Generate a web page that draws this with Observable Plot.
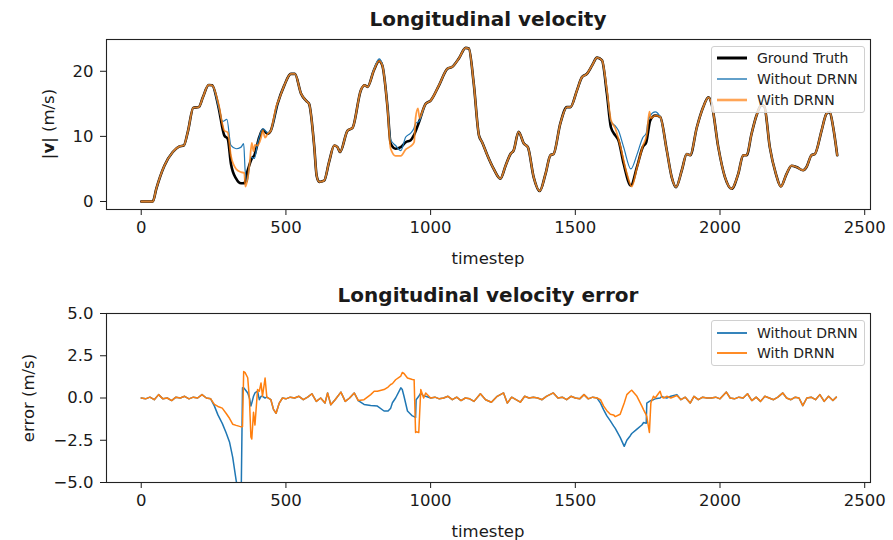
<!DOCTYPE html>
<html>
<head>
<meta charset="utf-8">
<script src="https://cdn.jsdelivr.net/npm/d3@7"></script>
<script src="https://cdn.jsdelivr.net/npm/@observablehq/plot@0.6"></script>
<style>
  body { margin: 0; background: #fff; }
  #wrap { position: relative; width: 893px; height: 540px; font-family: "DejaVu Sans", sans-serif; color: #1a1a1a; }
  #wrap svg.plot { position: absolute; left: 0; }
  .lbl { position: absolute; white-space: nowrap; font-size: 16.5px; transform: translate(-50%, -50%); }
  .ttl { position: absolute; white-space: nowrap; font-size: 20px; font-weight: bold; transform: translate(-50%, -50%); }
  .rot { transform: translate(-50%, -50%) rotate(-90deg); }
  .legend { position: absolute; border: 1px solid #d0d0d0; border-radius: 3px; background: rgba(255,255,255,0.8); box-sizing: border-box; }
  .legend .row { position: absolute; left: 0; height: 20px; width: 100%; }
  .legend .row svg { position: absolute; left: 5px; top: 0; }
  .legend .row span { position: absolute; left: 45px; top: 50%; transform: translateY(-50%); font-size: 14px; color: #222; }
</style>
</head>
<body>
<div id="wrap"></div>
<script>
// ---------- data: top panel (velocity, m/s) ----------
const truthT = [0,40,52,80,109,132,147,161,180,199,213,233,245,267,287,299,310,328,345,356,368,382,391,408,420,437,448,471,494,517,531,552,571,580,598,606,615,632,649,667,678,687,713,730,759,772,782,804,822,833,851,862,879,897,914,931,942,960,983,1000,1029,1058,1075,1098,1121,1132,1149,1167,1178,1196,1218,1241,1259,1276,1287,1304,1322,1336,1356,1377,1397,1414,1425,1448,1471,1483,1506,1523,1540,1558,1575,1592,1609,1623,1638,1649,1667,1692,1713,1733,1745,1759,1776,1793,1816,1833,1848,1868,1885,1897,1920,1942,1960,1971,1994,2017,2040,2063,2080,2092,2109,2126,2143,2153,2172,2193,2210,2230,2247,2264,2287,2299,2316,2328,2351,2368,2379,2391,2405];
const truthV = [0,0,1.95,5.5,7.6,8.46,8.6,10.7,14.4,14.5,16.0,17.9,17.85,14.5,10.15,9.6,5.8,3.5,2.8,2.8,4.8,6.6,7.1,9.9,11.0,10.4,10.9,15.0,17.8,19.6,19.6,16.6,15.4,15.0,8.35,4.0,3.0,3.2,6.05,8.6,8.35,7.6,10.9,11.3,17.1,17.85,17.6,20.15,21.6,20.9,14.5,8.9,8.1,8.35,9.1,9.4,10.15,12.2,15.0,15.5,17.85,20.4,20.7,22.0,23.6,23.5,18.1,10.15,9.1,7.1,5.0,3.5,5.5,7.3,7.85,10.7,8.9,8.35,3.75,1.6,4.25,7.1,7.3,11.95,14.5,14.5,17.1,19.1,19.6,20.9,22.1,21.7,16.6,11.4,10.15,9.4,5.8,2.45,5.3,8.35,9.1,12.45,13.2,13.0,7.85,3.75,2.2,4.8,7.3,7.1,11.4,14.5,16.0,15.0,8.35,3.75,1.95,4.25,7.1,7.1,10.4,13.2,14.8,14.6,8.35,4.25,2.3,4.25,5.5,5.3,4.8,5.3,7.1,7.3,10.9,13.5,13.75,11.4,7.1];

const withoutT = [0,40,52,80,109,132,147,161,180,199,213,233,245,267,281,296,310,328,345,354,359,366,379,391,402,420,437,448,471,494,517,531,552,571,580,598,606,615,632,649,667,678,687,713,730,759,772,782,804,822,833,851,862,879,897,914,931,942,948,960,983,1000,1029,1058,1075,1098,1121,1132,1149,1167,1178,1196,1218,1241,1259,1276,1287,1304,1322,1336,1356,1377,1397,1414,1425,1448,1471,1483,1506,1523,1540,1558,1575,1592,1609,1623,1638,1649,1667,1692,1713,1733,1745,1750,1759,1776,1793,1816,1833,1848,1868,1885,1897,1920,1942,1960,1971,1994,2017,2040,2063,2080,2092,2109,2126,2143,2153,2172,2193,2210,2230,2247,2264,2287,2299,2316,2328,2351,2368,2379,2391,2405];
const withoutV = [0,0,1.95,5.5,7.6,8.46,8.6,10.7,14.4,14.5,16.0,17.9,17.85,14.5,12.3,12.6,8.6,8.1,8.35,8.9,4.8,3.0,6.8,6.6,8.9,11.2,10.6,10.9,15.0,17.8,19.6,19.6,16.6,15.4,15.0,8.35,4.0,3.0,3.2,6.05,8.6,8.35,7.6,10.9,11.3,17.1,17.85,17.6,20.3,21.9,21.1,14.8,9.5,8.6,7.8,9.9,10.5,11.2,12.0,12.3,15.0,15.5,17.85,20.4,20.7,22.0,23.6,23.5,18.1,10.15,9.1,7.1,5.0,3.5,5.5,7.3,7.85,10.7,8.9,8.35,3.75,1.6,4.25,7.1,7.3,11.95,14.5,14.5,17.1,19.1,19.6,20.9,22.1,21.7,16.9,12.3,11.6,10.9,8.35,5.0,7.2,9.8,10.5,12.0,13.2,13.75,13.0,7.85,3.75,2.2,4.8,7.3,7.1,11.4,14.5,16.0,15.0,8.35,3.75,1.95,4.25,7.1,7.1,10.4,13.2,14.8,14.6,8.35,4.25,2.3,4.25,5.5,5.3,4.8,5.3,7.1,7.3,10.9,13.5,13.75,11.4,7.1];

const withT = [0,40,52,80,109,132,147,161,180,199,213,233,245,267,287,299,310,328,345,356,360,368,375,382,388,393,402,414,420,428,437,448,457,466,477,494,517,531,552,571,580,598,606,615,632,649,667,678,687,713,730,759,772,782,804,822,833,851,862,879,897,914,931,943,948,956,962,970,983,1000,1029,1058,1075,1098,1121,1132,1149,1167,1178,1196,1218,1241,1259,1276,1287,1304,1322,1336,1356,1377,1397,1414,1425,1448,1471,1483,1506,1523,1540,1558,1575,1592,1609,1623,1638,1655,1678,1695,1713,1733,1747,1756,1761,1776,1793,1816,1833,1848,1868,1885,1897,1920,1942,1960,1971,1994,2017,2040,2063,2080,2092,2109,2126,2143,2153,2172,2193,2210,2230,2247,2264,2287,2299,2316,2328,2351,2368,2379,2391,2405];
const withV = [0,0,1.95,5.5,7.6,8.46,8.6,10.7,14.4,14.5,16.0,17.9,17.85,15.0,10.9,10.6,7.0,5.0,4.5,4.4,2.3,3.6,6.0,9.0,7.7,8.7,8.6,9.8,10.9,9.8,10.4,10.9,12.6,14.5,15.8,17.8,19.6,19.6,16.6,15.4,15.0,8.35,4.0,3.0,3.2,6.05,8.6,8.35,7.6,10.9,11.3,17.1,17.85,17.6,20.15,21.6,20.9,14.3,8.1,7.0,7.0,8.0,8.5,9.1,12.8,14.3,12.8,13.7,15.0,15.5,17.85,20.4,20.7,22.0,23.6,23.5,18.1,10.15,9.1,7.1,5.0,3.5,5.5,7.3,7.85,10.7,8.9,8.35,3.75,1.6,4.25,7.1,7.3,11.95,14.5,14.5,17.1,19.1,19.6,20.9,22.1,21.7,17.2,12.5,11.25,8.6,4.3,2.3,5.2,8.5,10.3,13.8,12.8,13.2,13.0,7.85,3.75,2.2,4.8,7.3,7.1,11.4,14.5,16.0,15.0,8.35,3.75,1.95,4.25,7.1,7.1,10.4,13.2,14.8,14.6,8.35,4.25,2.3,4.25,5.5,5.3,4.8,5.3,7.1,7.3,10.9,13.5,13.75,11.4,7.1];

// ---------- data: bottom panel (velocity error, m/s) ----------
const errT = [0,15,30,45,60,75,90,105,120,135,150,165,180,195,210,225,240,253,265,280,293,305,316,328,340,345,350,354,359,368,374,379,382,388,393,402,408,414,419,428,434,448,457,466,477,488,500,515,530,545,560,575,590,605,620,635,644,655,670,690,705,720,736,750,770,793,805,816,839,853,862,868,879,897,902,908,920,937,943,948,950,959,966,976,983,1000,1015,1030,1045,1060,1075,1090,1105,1120,1135,1150,1172,1190,1210,1230,1252,1265,1280,1295,1310,1325,1340,1355,1370,1385,1400,1424,1440,1455,1470,1485,1500,1515,1530,1545,1560,1575,1587,1598,1609,1621,1632,1638,1655,1669,1678,1690,1695,1713,1730,1736,1745,1747,1756,1761,1770,1776,1793,1799,1805,1816,1830,1851,1865,1880,1897,1910,1925,1940,1955,1970,1985,2000,2022,2035,2050,2065,2080,2095,2110,2125,2140,2155,2170,2185,2200,2217,2230,2245,2260,2273,2286,2300,2315,2330,2345,2360,2375,2390,2402];
const errWith = [0.0,-0.05,0.05,-0.1,0.2,-0.05,0.0,-0.15,0.05,0.0,0.1,-0.05,0.05,0.0,0.2,0.0,-0.05,-0.38,-0.5,-0.6,-0.9,-1.2,-1.55,-1.62,-1.68,-1.7,-1.7,1.57,1.5,1.2,-0.1,-2.3,-2.43,-0.85,-1.6,0.5,0.4,0.89,0.1,1.18,0.05,-0.1,-0.67,-0.9,-0.3,0.0,-0.05,0.05,0.0,0.1,-0.1,0.05,0.25,-0.2,0.0,-0.3,0.3,-0.4,-0.1,0.35,-0.2,0.0,0.3,-0.15,-0.1,0.2,0.4,0.4,0.5,0.65,0.8,0.85,1.08,1.3,1.51,1.45,1.18,1.1,1.08,-2.04,-2.0,-2.04,0.5,0.0,0.3,0.0,0.05,-0.05,0.0,0.1,-0.1,0.05,-0.15,0.0,-0.05,-0.2,0.25,-0.1,-0.25,0.1,0.3,-0.3,0.05,-0.1,-0.25,0.1,0.0,0.05,0.0,-0.1,0.1,0.3,0.0,0.05,-0.1,0.1,0.0,-0.05,0.2,-0.05,0.05,0.0,-0.1,-0.48,-0.75,-0.96,-1.0,-1.1,-0.96,-0.3,0.2,0.4,0.46,0.1,-0.48,-0.7,-1.0,-1.1,-2.04,-0.3,0.1,0.0,0.4,0.05,0.0,0.1,0.0,0.15,-0.1,0.05,-0.3,0.1,-0.1,0.05,0.0,0.0,0.05,-0.05,0.35,0.0,-0.05,0.05,0.0,0.25,-0.15,0.05,-0.2,0.1,0.0,-0.1,0.05,0.3,0.0,-0.1,0.05,0.0,-0.45,0.0,0.05,-0.1,0.2,-0.2,0.1,-0.15,0.05];
const errWithout = [0.0,-0.05,0.05,-0.1,0.2,-0.05,0.0,-0.15,0.05,0.0,0.1,-0.05,0.05,0.0,0.2,0.0,-0.05,-0.48,-1.0,-1.5,-2.04,-2.6,-3.5,-4.87,-6.0,-6.3,0.6,0.6,0.5,0.3,0.0,-0.48,-0.3,0.1,0.3,0.4,-0.1,0.1,0.1,0.0,0.05,-0.1,-0.67,-0.9,-0.3,0.0,-0.05,0.05,0.0,0.1,-0.1,0.05,0.25,-0.2,0.0,-0.3,0.3,-0.4,-0.1,0.35,-0.2,0.0,0.3,-0.15,-0.38,-0.44,-0.46,-0.48,-0.77,-0.77,-0.6,-0.28,0.0,0.6,0.5,0.1,-0.77,-1.06,-1.1,-1.16,-0.1,0.1,0.3,0.1,0.1,0.0,0.05,-0.05,0.0,0.1,-0.1,0.05,-0.15,0.0,-0.05,-0.2,0.25,-0.1,-0.25,0.1,0.3,-0.3,0.05,-0.1,-0.25,0.1,0.0,0.05,0.0,-0.1,0.1,0.3,0.0,0.05,-0.1,0.1,0.0,-0.05,0.2,-0.05,0.05,0.0,-0.3,-0.7,-1.06,-1.35,-1.65,-1.8,-2.33,-2.86,-2.5,-2.23,-2.1,-1.84,-1.6,-1.45,-1.5,-0.3,-0.2,-0.15,-0.1,-0.05,0.0,0.1,0.05,0.0,0.1,0.2,-0.1,0.05,-0.3,0.1,-0.1,0.05,0.0,0.0,0.05,-0.05,0.35,0.0,-0.05,0.05,0.0,0.25,-0.15,0.05,-0.2,0.1,0.0,-0.1,0.05,0.3,0.0,-0.1,0.05,0.0,-0.45,0.0,0.05,-0.1,0.2,-0.2,0.1,-0.15,0.05];

// ---------- ticks / labels ----------
const xTicks = [0, 500, 1000, 1500, 2000, 2500];
const yTicksTop = [0, 10, 20];
const yTicksBottom = [-5, -2.5, 0, 2.5, 5];
const seriesNames = ["Ground Truth", "Without DRNN", "With DRNN"];
const colors = {truth: "#000000", without: "#1f77b4", with: "#ff7f0e"};

const zipTV = (T, V) => T.map((t, i) => ({t, v: V[i]}));

const baseStyle = {fontFamily: "DejaVu Sans, sans-serif", fontSize: "16.5px", color: "#1a1a1a", background: "transparent", overflow: "visible"};

const plotTop = Plot.plot({
  width: 893, height: 270,
  marginLeft: 106, marginRight: 23, marginTop: 39, marginBottom: 61,
  style: baseStyle,
  x: {domain: [-120, 2520], ticks: xTicks, tickSize: 6, tickPadding: 6, label: null, tickFormat: d3.format("d")},
  y: {domain: [-1.23, 24.88], ticks: yTicksTop, tickSize: 6, tickPadding: 7, label: null, tickFormat: d3.format("d")},
  marks: [
    Plot.line(zipTV(truthT, truthV), {x: "t", y: "v", stroke: colors.truth, strokeWidth: 2.6, curve: "monotone-x", clip: true}),
    Plot.line(zipTV(withoutT, withoutV), {x: "t", y: "v", stroke: colors.without, strokeWidth: 1.2, curve: "monotone-x", clip: true}),
    Plot.line(zipTV(withT, withV), {x: "t", y: "v", stroke: colors.with, strokeWidth: 1.8, strokeOpacity: 0.8, curve: "monotone-x", clip: true}),
    Plot.frame({stroke: "#222", strokeWidth: 1.1})
  ]
});

const plotBottom = Plot.plot({
  width: 893, height: 270,
  marginLeft: 106, marginRight: 23, marginTop: 43, marginBottom: 58,
  style: baseStyle,
  x: {domain: [-120, 2520], ticks: xTicks, tickSize: 6, tickPadding: 6, label: null, tickFormat: d3.format("d")},
  y: {domain: [-5, 5], ticks: yTicksBottom, tickSize: 6, tickPadding: 7, label: null, tickFormat: d3.format(".1f")},
  marks: [
    Plot.line(zipTV(errT, errWithout), {x: "t", y: "v", stroke: colors.without, strokeWidth: 1.5, clip: true}),
    Plot.line(zipTV(errT, errWith), {x: "t", y: "v", stroke: colors.with, strokeWidth: 1.5, clip: true}),
    Plot.frame({stroke: "#222", strokeWidth: 1.1})
  ]
});

const wrap = document.getElementById("wrap");
plotTop.classList.add("plot"); plotTop.style.top = "0px";
plotBottom.classList.add("plot"); plotBottom.style.top = "270px";
wrap.appendChild(plotTop);
wrap.appendChild(plotBottom);

function addDiv(cls, html, x, y) {
  const d = document.createElement("div");
  d.className = cls;
  d.innerHTML = html;
  d.style.left = x + "px";
  d.style.top = y + "px";
  wrap.appendChild(d);
  return d;
}
addDiv("ttl", "Longitudinal velocity", 488, 19);
addDiv("lbl", "timestep", 488, 258);
addDiv("lbl rot", "|<b>v</b>| (m/s)", 48, 124);
addDiv("ttl", "Longitudinal velocity error", 488, 295);
addDiv("lbl", "timestep", 488, 531);
addDiv("lbl rot", "error (m/s)", 28, 398);

function legend(x, y, w, h, entries, rowTops) {
  const L = document.createElement("div");
  L.className = "legend";
  Object.assign(L.style, {left: x + "px", top: y + "px", width: w + "px", height: h + "px"});
  entries.forEach((e, i) => {
    const r = document.createElement("div");
    r.className = "row";
    r.style.top = rowTops[i] + "px";
    r.innerHTML = `<svg width="32" height="20"><line x1="0" x2="30" y1="10" y2="10" stroke="${e.color}" stroke-width="${e.w}" stroke-opacity="${e.o}"/></svg><span>${e.name}</span>`;
    L.appendChild(r);
  });
  wrap.appendChild(L);
}
legend(711, 46, 154, 67, [
  {name: seriesNames[0], color: colors.truth, w: 3, o: 1},
  {name: seriesNames[1], color: colors.without, w: 1.4, o: 1},
  {name: seriesNames[2], color: colors.with, w: 2.6, o: 0.7}
], [1, 22, 43]);
legend(711, 320, 154, 46, [
  {name: seriesNames[1], color: colors.without, w: 1.8, o: 1},
  {name: seriesNames[2], color: colors.with, w: 1.8, o: 1}
], [2, 22]);
</script>
</body>
</html>
